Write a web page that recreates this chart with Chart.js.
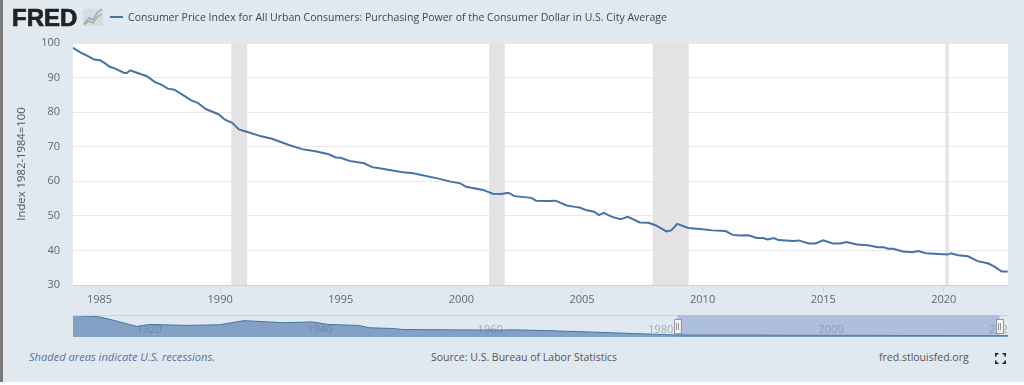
<!DOCTYPE html>
<html>
<head>
<meta charset="utf-8">
<script src="https://cdn.jsdelivr.net/npm/chart.js@4"></script>
<style>
  html, body { margin: 0; padding: 0; background: #fff; }
  #page { position: relative; width: 1024px; height: 382px; background: #e1e9f0; overflow: hidden; font-family: "Open Sans", sans-serif; }
  #edge { position: absolute; left: 0; top: 0; width: 3px; height: 382px; background: #7a7a7a; }
  #main { position: absolute; left: 0; top: 0; }
  #nav { position: absolute; left: 0; top: 310px; }
  .txt { position: absolute; white-space: nowrap; font-size: 10.5px; color: #555; line-height: 14px; }
  #logo { position: absolute; left: 12px; top: 6px; font: bold 24px "Liberation Sans", sans-serif; -webkit-text-stroke: 0.7px #222; color: #222; line-height: 24px; }
  #spark { position: absolute; left: 82px; top: 6px; }
  #dash { position: absolute; left: 110px; top: 16px; width: 13px; height: 2px; background: #4572a7; }
  #title { left: 128px; top: 10px; font-size: 11.5px; color: #444; transform: scaleX(0.915); transform-origin: 0 50%; }
  #shade { left: 29px; top: 350px; font-size: 11.1px; font-style: italic; color: #5f6fa3; }
  #source { left: 431px; top: 350px; }
  #site { left: 879px; top: 350px; }
  #full { position: absolute; left: 995px; top: 353px; }
</style>
</head>
<body>
<div id="page">
  <div id="edge"></div>
  <canvas id="main" width="1024" height="310"></canvas>
  <canvas id="nav" width="1024" height="35"></canvas>
  <div id="logo">FRED</div>
  <svg id="spark" width="22" height="22">
    <rect x="1" y="3" width="20" height="17" fill="#d5dde4"/>
    <polyline points="2,18 7,12 11,14 15,7 20,3" fill="none" stroke="#8fa9c4" stroke-width="1.5"/>
    <polyline points="2,19 7,15 11,17 15,11 20,8" fill="none" stroke="#9dbb8c" stroke-width="1.5"/>
  </svg>
  <div id="dash"></div>
  <div id="title" class="txt">Consumer Price Index for All Urban Consumers: Purchasing Power of the Consumer Dollar in U.S. City Average</div>
  <div id="shade" class="txt">Shaded areas indicate U.S. recessions.</div>
  <div id="source" class="txt">Source: U.S. Bureau of Labor Statistics</div>
  <div id="site" class="txt">fred.stlouisfed.org</div>
  <svg id="full" width="11" height="11" fill="none" stroke="#222" stroke-width="1.6">
    <path d="M0.8 3.5V0.8H3.5M7.5 0.8H10.2V3.5M10.2 7.5V10.2H7.5M3.5 10.2H0.8V7.5"/>
  </svg>
</div>

<script>
// Purchasing power of the dollar (decimal year, index)
const years = [1983.9, 1984.2, 1984.5, 1984.78, 1985.03, 1985.23, 1985.4, 1985.65, 1986.0, 1986.13, 1986.27, 1986.55, 1986.96, 1987.3, 1987.58, 1987.83, 1988.1, 1988.4, 1988.8, 1989.07, 1989.4, 1989.93, 1990.2, 1990.5, 1990.78, 1991.17, 1991.7, 1992.15, 1992.85, 1993.4, 1994.0, 1994.5, 1994.8, 1995.0, 1995.35, 1995.97, 1996.3, 1996.73, 1997.5, 1998.0, 1999.1, 1999.55, 1999.96, 2000.2, 2000.9, 2001.3, 2001.65, 2001.95, 2002.2, 2002.9, 2003.1, 2003.6, 2003.9, 2004.37, 2004.7, 2004.9, 2005.2, 2005.5, 2005.7, 2005.9, 2006.25, 2006.6, 2006.9, 2007.4, 2007.75, 2008.05, 2008.5, 2008.7, 2008.95, 2009.4, 2009.9, 2010.4, 2010.95, 2011.25, 2011.55, 2011.9, 2012.25, 2012.5, 2012.7, 2012.95, 2013.15, 2013.77, 2013.98, 2014.4, 2014.67, 2015.0, 2015.4, 2015.7, 2015.97, 2016.4, 2016.85, 2017.27, 2017.5, 2017.7, 2017.9, 2018.3, 2018.7, 2018.93, 2019.27, 2019.97, 2020.17, 2020.3, 2020.6, 2021.0, 2021.4, 2021.85, 2022.1, 2022.4, 2022.65];
const values = [98.6, 97.3, 96.3, 95.2, 95.0, 94.1, 93.2, 92.6, 91.4, 91.3, 92.1, 91.4, 90.4, 88.7, 87.9, 86.8, 86.5, 85.2, 83.4, 82.7, 80.9, 79.4, 77.8, 76.9, 75.0, 74.2, 73.0, 72.3, 70.5, 69.3, 68.6, 67.8, 66.9, 66.8, 65.9, 65.2, 64.1, 63.6, 62.7, 62.3, 60.7, 59.9, 59.4, 58.4, 57.5, 56.4, 56.3, 56.7, 55.7, 55.2, 54.4, 54.3, 54.4, 53.0, 52.6, 52.4, 51.6, 51.2, 50.2, 50.9, 49.7, 49.0, 49.7, 48.1, 48.0, 47.3, 45.5, 45.8, 47.7, 46.5, 46.2, 45.8, 45.6, 44.5, 44.3, 44.4, 43.6, 43.6, 43.2, 43.6, 43.0, 42.7, 42.9, 42.0, 42.0, 42.9, 42.0, 42.0, 42.4, 41.7, 41.5, 40.9, 40.9, 40.5, 40.5, 39.7, 39.5, 39.8, 39.2, 38.9, 38.8, 39.2, 38.6, 38.3, 36.9, 36.2, 35.3, 33.9, 33.9];

const recessionStart = [1990.46, 2001.15, 2007.93, 2020.07];
const recessionEnd = [1991.12, 2001.8, 2009.42, 2020.2];

const xTicks = [1985, 1990, 1995, 2000, 2005, 2010, 2015, 2020];
const yTicks = [30, 40, 50, 60, 70, 80, 90, 100];

// long history shown in the navigator strip
const navYears = [1913, 1915.8, 1917, 1920.5, 1922, 1926.3, 1930.2, 1933.1, 1937.6, 1941.1, 1942.9, 1946.5, 1947.8, 1950.6, 1951.7, 1963.1, 1964.5, 1968.4, 1974.3, 1983.7, 2022.7];
const navValues = [990, 930, 837, 479, 572, 526, 558, 744, 651, 684, 572, 526, 419, 386, 340, 312, 326, 293, 219, 93, 60];
const navLabels = [1920, 1940, 1960, 1980, 2000, 2020];
const navRange = [1983.9, 2021.7];

const toPoints = (xs, ys) => xs.map((x, i) => ({ x: x, y: ys[i] }));

const recessionBands = {
  id: 'recessionBands',
  beforeDraw(chart) {
    const a = chart.chartArea, c = chart.ctx;
    c.fillStyle = '#fff';
    c.fillRect(a.left, a.top, a.width, a.height);
  },
  beforeDatasetsDraw(chart) {
    const a = chart.chartArea, c = chart.ctx, x = chart.scales.x;
    c.fillStyle = '#e3e3e3';
    recessionStart.forEach((s, i) => {
      const l = x.getPixelForValue(s), r = x.getPixelForValue(recessionEnd[i]);
      c.fillRect(l, a.top, r - l, a.height);
    });
  }
};

new Chart(document.getElementById('main'), {
  type: 'line',
  data: {
    datasets: [{
      data: toPoints(years, values),
      borderColor: '#4572a7',
      borderWidth: 2,
      pointRadius: 0,
      tension: 0
    }]
  },
  options: {
    responsive: false,
    animation: false,
    parsing: false,
    layout: { padding: { top: 43, right: 16, left: 3, bottom: 0 } },
    plugins: { legend: { display: false }, tooltip: { enabled: false } },
    scales: {
      x: {
        type: 'linear',
        min: 1983.9,
        max: 2022.66,
        afterFit(s) { s.height = 25; },
        afterBuildTicks(s) { s.ticks = xTicks.map(v => ({ value: v })); },
        border: { color: '#c5d3e3' },
        grid: { drawOnChartArea: false, drawTicks: true, tickLength: 8, color: '#ccd6eb' },
        ticks: { color: '#666', font: { family: 'Open Sans', size: 11 }, padding: 0, maxRotation: 0, callback: v => String(v) }
      },
      y: {
        min: 30,
        max: 100,
        afterFit(s) { s.width = 70; },
        afterBuildTicks(s) { s.ticks = yTicks.map(v => ({ value: v })); },
        border: { display: false },
        grid: { color: '#e9e9e9', drawTicks: false },
        ticks: { color: '#666', font: { family: 'Open Sans', size: 11 }, padding: 13 },
        title: { display: true, text: 'Index 1982-1984=100', color: '#555', font: { family: 'Open Sans', size: 11.3 }, padding: { top: 12, bottom: 0 } }
      }
    }
  },
  plugins: [recessionBands]
});

// navigator strip, the selected window is painted over the area
const navDecor = {
  id: 'navDecor',
  beforeDatasetsDraw(chart) {
    const a = chart.chartArea, c = chart.ctx, x = chart.scales.x;
    c.save();
    c.beginPath();
    c.rect(a.left, a.top, a.width, a.height);
    c.clip();
    c.fillStyle = '#a9a9a9';
    c.font = '11px "Open Sans"';
    c.textBaseline = 'middle';
    navLabels.forEach(v => c.fillText(String(v), x.getPixelForValue(v) + 4, a.top + 15));
    c.restore();
  },
  afterDatasetsDraw(chart) {
    const a = chart.chartArea, c = chart.ctx, x = chart.scales.x;
    const l = x.getPixelForValue(navRange[0]), r = x.getPixelForValue(navRange[1]);
    c.fillStyle = 'rgba(102,133,194,0.42)';
    c.fillRect(l, a.top, r - l, a.height);
    c.strokeStyle = '#cfd3d8';
    c.beginPath();
    c.moveTo(a.left, a.top + 0.5); c.lineTo(l, a.top + 0.5);
    c.moveTo(r, a.top + 0.5); c.lineTo(a.right, a.top + 0.5);
    c.stroke();
    [l, r].forEach(p => {
      c.fillStyle = '#f2f2f2';
      c.strokeStyle = '#999';
      c.fillRect(p - 3.5, a.top + 4, 7, 14);
      c.strokeRect(Math.round(p - 3.5) + 0.5, a.top + 4.5, 7, 14);
      c.beginPath();
      c.moveTo(Math.round(p) - 1 + 0.5, a.top + 8); c.lineTo(Math.round(p) - 1 + 0.5, a.top + 15);
      c.moveTo(Math.round(p) + 1 + 0.5, a.top + 8); c.lineTo(Math.round(p) + 1 + 0.5, a.top + 15);
      c.stroke();
    });
  }
};

new Chart(document.getElementById('nav'), {
  type: 'line',
  data: {
    datasets: [{
      data: toPoints(navYears, navValues),
      borderColor: '#4572a7',
      borderWidth: 1,
      backgroundColor: 'rgba(69,114,167,0.6)',
      fill: 'origin',
      pointRadius: 0,
      tension: 0
    }]
  },
  options: {
    responsive: false,
    animation: false,
    parsing: false,
    layout: { padding: { top: 5, right: 16, left: 73, bottom: 8 } },
    plugins: { legend: { display: false }, tooltip: { enabled: false } },
    scales: {
      x: { type: 'linear', min: 1913, max: 2022.7, display: false },
      y: { min: 0, max: 1000, display: false }
    }
  },
  plugins: [navDecor]
});
</script>
</body>
</html>
